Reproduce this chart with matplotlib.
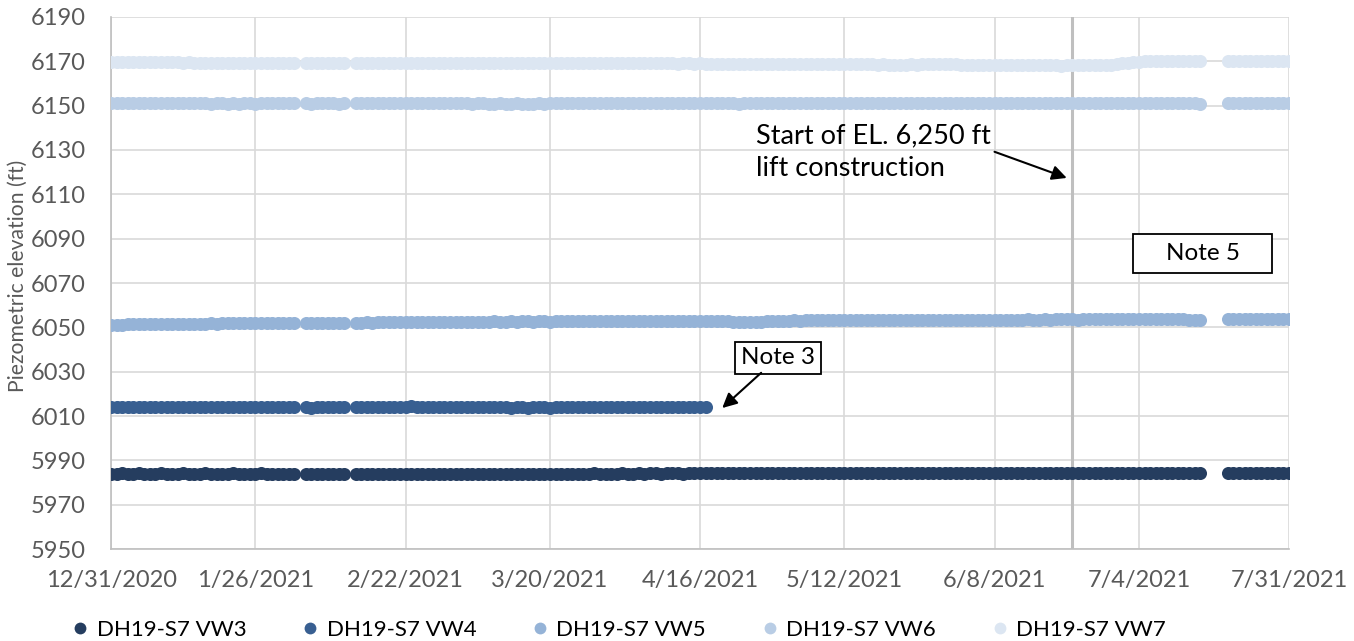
import pandas as pd
import matplotlib.pyplot as plt
import matplotlib.dates as mdates
from matplotlib.patches import Rectangle
from matplotlib.lines import Line2D

plt.rcParams['font.family'] = ['Lato', 'DejaVu Sans']

# Daily readings, 12/31/2020 - 7/31/2021 (no readings on the dropped days)
missing_days = ["2021-02-03", "2021-02-12", "2021-07-16", "2021-07-17",
                "2021-07-18", "2021-07-19"]
dates = pd.date_range("2020-12-31", "2021-07-31", freq="D")
dates = dates.drop(pd.to_datetime(missing_days))
vw4_last_day = "2021-04-17"

vw3 = [
    5984.0,
    5984.0, 5984.1, 5984.0, 5984.0, 5984.1, 5984.0, 5983.9, 5984.0, 5984.1, 5984.0,
    5984.0, 5984.0, 5984.1, 5984.0, 5983.9, 5984.0, 5984.1, 5984.0, 5984.0, 5984.0,
    5984.0, 5984.1, 5984.0, 5984.0, 5983.9, 5984.0, 5984.1, 5984.0, 5984.0, 5984.0,
    5984.0,
    5984.0, 5984.0, 5983.9, 5984.0, 5984.0, 5984.0, 5983.9, 5984.0, 5984.0, 5983.9,
    5984.0, 5984.0, 5984.0, 5983.9, 5984.0, 5984.0, 5984.0, 5983.9, 5984.0, 5984.0,
    5984.0, 5984.0, 5983.9, 5984.0, 5984.0, 5984.0,
    5984.0, 5984.0, 5984.0, 5983.9, 5984.0, 5984.0, 5984.0, 5984.0, 5983.9, 5984.0,
    5984.0, 5984.0, 5984.0, 5984.0, 5983.9, 5984.0, 5984.0, 5984.0, 5984.0, 5984.0,
    5984.0, 5983.9, 5984.0, 5984.0, 5984.0, 5984.0, 5984.0, 5984.1, 5984.0, 5984.0,
    5984.0,
    5984.0, 5984.1, 5984.0, 5984.0, 5984.1, 5984.0, 5984.1, 5984.1, 5984.0, 5984.1,
    5984.1, 5984.1, 5984.0, 5984.1, 5984.1, 5984.1, 5984.1, 5984.2, 5984.1, 5984.1,
    5984.2, 5984.1, 5984.1, 5984.2, 5984.2, 5984.1, 5984.2, 5984.2, 5984.2, 5984.1,
    5984.2, 5984.2, 5984.2, 5984.3, 5984.2, 5984.2, 5984.3, 5984.2, 5984.3, 5984.3,
    5984.2, 5984.3, 5984.3, 5984.3, 5984.2, 5984.3, 5984.3, 5984.3, 5984.3, 5984.2,
    5984.3, 5984.3, 5984.3, 5984.3, 5984.3, 5984.2, 5984.3, 5984.3, 5984.3, 5984.3,
    5984.3,
    5984.3, 5984.3, 5984.2, 5984.3, 5984.3, 5984.3, 5984.3, 5984.3, 5984.2, 5984.3,
    5984.3, 5984.3, 5984.3, 5984.2, 5984.3, 5984.3, 5984.3, 5984.3, 5984.3, 5984.2,
    5984.3, 5984.3, 5984.3, 5984.3, 5984.2, 5984.3, 5984.3, 5984.3, 5984.3, 5984.2,
    5984.3, 5984.2, 5984.3, 5984.3, 5984.2, 5984.3, 5984.2, 5984.3, 5984.2, 5984.2,
    5984.2, 5984.3, 5984.2, 5984.2, 5984.1,
    5984.1, 5984.2, 5984.1, 5984.1, 5984.2, 5984.1, 5984.1, 5984.2, 5984.1, 5984.1,
    5984.1, 5984.2,
]

vw4 = [
    6014.0,
    6014.1, 6014.1, 6014.2, 6014.1, 6014.2, 6014.1, 6014.1, 6014.2, 6014.1, 6014.1,
    6014.0, 6014.1, 6014.1, 6014.0, 6014.1, 6014.0, 6014.0, 6014.1, 6014.0, 6014.0,
    6013.9, 6014.0, 6014.0, 6013.9, 6014.0, 6013.9, 6013.9, 6014.0, 6013.9, 6013.9,
    6013.9,
    6013.9, 6013.9, 6013.9, 6013.8, 6013.9, 6013.9, 6013.9, 6013.9, 6014.0, 6013.9,
    6014.0, 6014.0, 6014.1, 6014.0, 6014.1, 6014.1, 6014.2, 6014.1, 6014.2, 6014.2,
    6014.3, 6014.2, 6014.2, 6014.1, 6014.2, 6014.1,
    6014.1, 6014.0, 6014.1, 6014.0, 6014.0, 6014.0, 6013.9, 6014.0, 6013.9, 6013.9,
    6013.9, 6013.9, 6013.8, 6013.9, 6013.9, 6013.8, 6013.9, 6013.9, 6013.9, 6013.8,
    6013.9, 6013.9, 6013.9, 6014.0, 6013.9, 6013.9, 6014.0, 6013.9, 6014.0, 6014.0,
    6013.9,
    6014.0, 6014.0, 6013.9, 6014.0, 6014.0, 6014.0, 6014.1, 6014.0, 6014.0, 6014.0,
    6014.1, 6014.0, 6014.0, 6014.0, 6014.0, 6013.9, 6014.0,
]

vw5 = [
    6051.0,
    6051.1, 6051.2, 6051.3, 6051.3, 6051.4, 6051.4, 6051.5, 6051.5, 6051.5, 6051.6,
    6051.6, 6051.6, 6051.7, 6051.6, 6051.7, 6051.7, 6051.7, 6051.8, 6051.7, 6051.8,
    6051.8, 6051.8, 6051.9, 6051.8, 6051.9, 6051.9, 6051.8, 6051.9, 6051.9, 6052.0,
    6051.9,
    6052.0, 6051.9, 6052.0, 6052.0, 6051.9, 6052.0, 6052.0, 6052.1, 6052.0, 6052.1,
    6052.1, 6052.1, 6052.2, 6052.1, 6052.2, 6052.2, 6052.3, 6052.2, 6052.3, 6052.3,
    6052.4, 6052.3, 6052.4, 6052.4, 6052.5, 6052.4,
    6052.5, 6052.5, 6052.6, 6052.5, 6052.6, 6052.6, 6052.5, 6052.6, 6052.6, 6052.7,
    6052.6, 6052.6, 6052.7, 6052.6, 6052.7, 6052.7, 6052.6, 6052.7, 6052.7, 6052.6,
    6052.7, 6052.7, 6052.8, 6052.7, 6052.7, 6052.8, 6052.7, 6052.8, 6052.8, 6052.7,
    6052.8,
    6052.8, 6052.8, 6052.9, 6052.8, 6052.9, 6052.9, 6052.8, 6052.9, 6052.9, 6053.0,
    6052.9, 6052.9, 6053.0, 6052.9, 6053.0, 6053.0, 6052.9, 6053.0, 6052.9, 6052.8,
    6052.7, 6052.6, 6052.6, 6052.5, 6052.5, 6052.6, 6052.6, 6052.7, 6052.8, 6052.9,
    6053.0, 6053.0, 6053.1, 6053.0, 6053.1, 6053.1, 6053.2, 6053.1, 6053.2, 6053.2,
    6053.2, 6053.3, 6053.2, 6053.3, 6053.3, 6053.3, 6053.2, 6053.3, 6053.3, 6053.4,
    6053.3, 6053.4, 6053.4, 6053.3, 6053.4, 6053.4, 6053.4, 6053.3, 6053.4, 6053.4,
    6053.4,
    6053.4, 6053.5, 6053.4, 6053.5, 6053.5, 6053.4, 6053.5, 6053.5, 6053.5, 6053.4,
    6053.5, 6053.5, 6053.5, 6053.6, 6053.5, 6053.5, 6053.6, 6053.5, 6053.6, 6053.6,
    6053.6, 6053.6, 6053.5, 6053.6, 6053.6, 6053.6, 6053.7, 6053.6, 6053.6, 6053.7,
    6053.6, 6053.7, 6053.7, 6053.6, 6053.7, 6053.7, 6053.7, 6053.6, 6053.7, 6053.7,
    6053.6, 6053.6, 6053.5, 6053.5, 6053.4,
    6053.6, 6053.7, 6053.7, 6053.8, 6053.7, 6053.8, 6053.8, 6053.8, 6053.9, 6053.8,
    6053.8, 6053.9,
]

vw6 = [
    6151.0,
    6151.1, 6151.1, 6151.2, 6151.1, 6151.2, 6151.2, 6151.1, 6151.2, 6151.1, 6151.1,
    6151.0, 6151.1, 6151.0, 6151.0, 6151.1, 6151.0, 6151.0, 6150.9, 6151.0, 6151.0,
    6150.9, 6151.0, 6150.9, 6151.0, 6151.0, 6150.9, 6151.0, 6151.0, 6151.0, 6151.1,
    6151.0,
    6151.0, 6151.0, 6151.0, 6150.9, 6151.0, 6151.0, 6151.0, 6151.0, 6150.9, 6151.0,
    6151.0, 6151.1, 6151.0, 6151.1, 6151.1, 6151.0, 6151.1, 6151.1, 6151.2, 6151.1,
    6151.1, 6151.2, 6151.1, 6151.1, 6151.0, 6151.1,
    6151.0, 6151.0, 6151.1, 6151.0, 6151.0, 6150.9, 6151.0, 6151.0, 6150.9, 6150.9,
    6151.0, 6150.9, 6150.9, 6151.0, 6150.9, 6150.9, 6150.9, 6151.0, 6150.9, 6151.0,
    6151.0, 6151.0, 6151.1, 6151.0, 6151.1, 6151.1, 6151.0, 6151.1, 6151.1, 6151.1,
    6151.0,
    6151.1, 6151.1, 6151.0, 6151.1, 6151.1, 6151.1, 6151.2, 6151.1, 6151.1, 6151.2,
    6151.1, 6151.2, 6151.1, 6151.1, 6151.2, 6151.1, 6151.1, 6151.0, 6151.1, 6151.0,
    6151.0, 6151.0, 6150.9, 6151.0, 6151.0, 6151.0, 6151.1, 6151.0, 6151.1, 6151.1,
    6151.1, 6151.2, 6151.1, 6151.2, 6151.2, 6151.1, 6151.2, 6151.2, 6151.2, 6151.1,
    6151.2, 6151.2, 6151.1, 6151.2, 6151.1, 6151.1, 6151.2, 6151.1, 6151.1, 6151.1,
    6151.0, 6151.1, 6151.1, 6151.0, 6151.1, 6151.0, 6151.0, 6151.1, 6151.0, 6151.0,
    6151.0,
    6151.0, 6151.1, 6151.0, 6151.0, 6151.1, 6151.0, 6151.1, 6151.1, 6151.0, 6151.1,
    6151.1, 6151.1, 6151.2, 6151.1, 6151.2, 6151.2, 6151.2, 6151.3, 6151.2, 6151.3,
    6151.3, 6151.3, 6151.4, 6151.3, 6151.4, 6151.3, 6151.3, 6151.4, 6151.3, 6151.3,
    6151.3, 6151.2, 6151.3, 6151.2, 6151.2, 6151.1, 6151.2, 6151.1, 6151.1, 6151.1,
    6151.0, 6151.1, 6151.0, 6151.0, 6150.9,
    6151.1, 6151.1, 6151.2, 6151.1, 6151.1, 6151.2, 6151.1, 6151.1, 6151.1, 6151.0,
    6151.1, 6151.1,
]

vw7 = [
    6169.7,
    6169.7, 6169.7, 6169.6, 6169.7, 6169.6, 6169.6, 6169.6, 6169.5, 6169.6, 6169.5,
    6169.5, 6169.5, 6169.4, 6169.5, 6169.4, 6169.4, 6169.4, 6169.3, 6169.4, 6169.3,
    6169.3, 6169.3, 6169.3, 6169.2, 6169.3, 6169.2, 6169.2, 6169.3, 6169.2, 6169.2,
    6169.2,
    6169.2, 6169.2, 6169.2, 6169.1, 6169.2, 6169.2, 6169.2, 6169.3, 6169.3, 6169.3,
    6169.4, 6169.3, 6169.4, 6169.4, 6169.4, 6169.3, 6169.4, 6169.3, 6169.3, 6169.3,
    6169.3, 6169.2, 6169.3, 6169.3, 6169.2, 6169.3,
    6169.3, 6169.3, 6169.4, 6169.3, 6169.4, 6169.4, 6169.4, 6169.4, 6169.3, 6169.4,
    6169.4, 6169.4, 6169.3, 6169.4, 6169.4, 6169.3, 6169.4, 6169.3, 6169.3, 6169.3,
    6169.3, 6169.2, 6169.3, 6169.3, 6169.2, 6169.3, 6169.2, 6169.2, 6169.2, 6169.3,
    6169.2,
    6169.2, 6169.2, 6169.1, 6169.2, 6169.2, 6169.1, 6169.2, 6169.1, 6169.1, 6169.1,
    6169.1, 6169.0, 6169.1, 6169.1, 6169.0, 6169.1, 6169.0, 6169.0, 6169.0, 6169.0,
    6168.9, 6169.0, 6169.0, 6168.9, 6169.0, 6168.9, 6168.9, 6168.9, 6168.9, 6168.8,
    6168.9, 6168.8, 6168.8, 6168.8, 6168.8, 6168.7, 6168.8, 6168.7, 6168.7, 6168.7,
    6168.7, 6168.6, 6168.7, 6168.6, 6168.6, 6168.6, 6168.6, 6168.5, 6168.6, 6168.5,
    6168.5, 6168.5, 6168.5, 6168.6, 6168.5, 6168.6, 6168.6, 6168.6, 6168.7, 6168.6,
    6168.6,
    6168.6, 6168.5, 6168.5, 6168.4, 6168.4, 6168.4, 6168.3, 6168.3, 6168.2, 6168.2,
    6168.2, 6168.3, 6168.2, 6168.2, 6168.2, 6168.3, 6168.2, 6168.2, 6168.2, 6168.1,
    6168.2, 6168.2, 6168.2, 6168.3, 6168.2, 6168.2, 6168.2, 6168.3, 6168.5, 6168.8,
    6169.1, 6169.4, 6169.7, 6169.9, 6170.1, 6170.2, 6170.2, 6170.1, 6170.2, 6170.1,
    6170.1, 6170.1, 6170.0, 6170.1, 6170.0,
    6170.2, 6170.2, 6170.1, 6170.1, 6170.0, 6170.0, 6170.0, 6170.1, 6170.1, 6170.1,
    6170.2, 6170.2,
]

series = [
    ("DH19-S7 VW3", vw3, "#253D5F"),
    ("DH19-S7 VW4", vw4, "#385F91"),
    ("DH19-S7 VW5", vw5, "#95B3D7"),
    ("DH19-S7 VW6", vw6, "#B9CDE5"),
    ("DH19-S7 VW7", vw7, "#DCE6F2"),
]

tick_dates = ["2020-12-31", "2021-01-26", "2021-02-22", "2021-03-20", "2021-04-16",
              "2021-05-12", "2021-06-08", "2021-07-04", "2021-07-31"]
tick_labels = ["12/31/2020", "1/26/2021", "2/22/2021", "3/20/2021", "4/16/2021",
               "5/12/2021", "6/8/2021", "7/4/2021", "7/31/2021"]
construction_start = "2021-06-22"

grey_text = "#595959"
fig = plt.figure(figsize=(13.54, 6.41), dpi=100)
ax = fig.add_axes([0.082, 0.1435, 0.870, 0.830])

handles = []
for name, vals, col in series:
    d = dates[:len(vals)]
    ax.plot(d, vals, linestyle="none", marker="o", markersize=9.4,
            markerfacecolor=col, markeredgewidth=0, zorder=3)
    handles.append(Line2D([], [], linestyle="none", marker="o", markersize=8.5,
                          markerfacecolor=col, markeredgewidth=0, label=name))

ax.set_ylim(5950, 6190)
ax.set_yticks(range(5950, 6191, 20))
ax.set_xlim(pd.Timestamp(tick_dates[0]), pd.Timestamp(tick_dates[-1]))
ax.set_xticks(pd.to_datetime(tick_dates))
ax.set_xticklabels(tick_labels)
ax.tick_params(length=0, labelsize=17, labelcolor=grey_text)
ax.tick_params(axis="x", pad=15)
ax.tick_params(axis="y", pad=18)
ax.grid(True, color="#D9D9D9", linewidth=1.2, zorder=0)
ax.set_axisbelow(True)
for side in ["top", "right"]:
    ax.spines[side].set_visible(False)
for side in ["left", "bottom"]:
    ax.spines[side].set_color("#BFBFBF")
    ax.spines[side].set_linewidth(1.2)
ax.set_ylabel("Piezometric elevation (ft)", fontsize=15.2, color=grey_text)
ax.yaxis.set_label_coords(-0.071, 0.513)

# start of the EL. 6,250 ft lift
ax.axvline(pd.Timestamp(construction_start), color="#BFBFBF", linewidth=2.2, zorder=2)
ax.text(pd.Timestamp("2021-04-26"), 6129, "Start of EL. 6,250 ft\nlift construction",
        fontsize=19.5, va="center", ha="left", linespacing=1.4)
ax.annotate("", xy=(pd.Timestamp("2021-06-21"), 6117.4),
            xytext=(pd.Timestamp("2021-06-08"), 6129.2),
            arrowprops=dict(arrowstyle="-|>", color="black", lw=1.5,
                            mutation_scale=22, shrinkA=0, shrinkB=0))

# note boxes
ax.text(pd.Timestamp("2021-04-30"), 6036.2, "Note 3", fontsize=17.5, ha="center", va="center",
        bbox=dict(boxstyle="square,pad=0.24", facecolor="white", edgecolor="black", lw=1.3))
ax.annotate("", xy=(pd.Timestamp("2021-04-20"), 6013.6),
            xytext=(pd.Timestamp("2021-04-27"), 6029.5),
            arrowprops=dict(arrowstyle="-|>", color="black", lw=1.5,
                            mutation_scale=22, shrinkA=0, shrinkB=0))

x0 = mdates.date2num(pd.Timestamp("2021-07-03"))
ax.add_patch(Rectangle((x0, 6074.7), 25.0, 17.6, facecolor="white", edgecolor="black",
                       linewidth=1.3, zorder=4))
ax.text(x0 + 12.5, 6083.5, "Note 5", fontsize=17.5, ha="center", va="center", zorder=5)

fig.legend(handles=handles, loc="lower center", ncol=5, frameon=False, fontsize=16,
           bbox_to_anchor=(0.456, -0.03), columnspacing=2.36, handletextpad=0.25,
           handlelength=1.0)

fig.savefig("out.png", dpi=100)
